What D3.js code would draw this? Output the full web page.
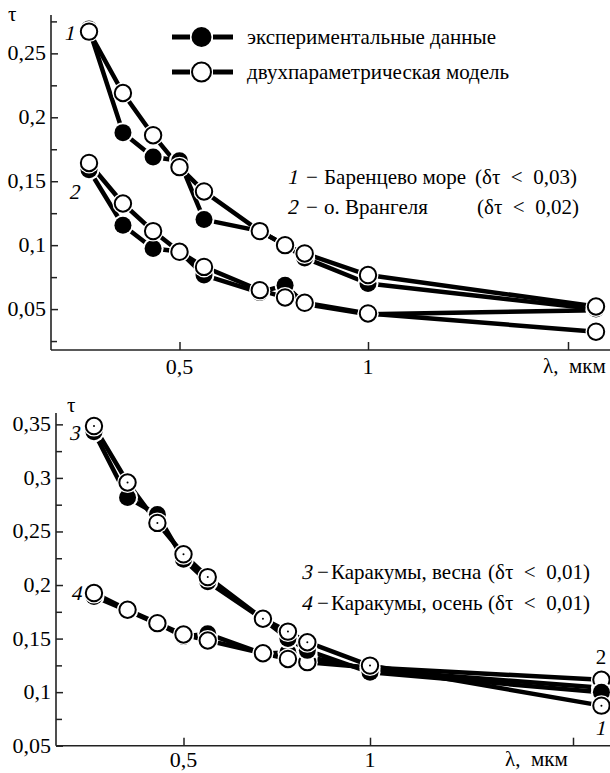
<!DOCTYPE html>
<html>
<head>
<meta charset="utf-8">
<script src="https://cdn.jsdelivr.net/npm/d3@7"></script>
<style>
  svg text { font-family: "Liberation Serif" !important; }
</style>
</head>
<body style="margin:0">
<script>
// wavelengths, mkm (same for both panels)
var lambda = [0.26, 0.35, 0.43, 0.5, 0.565, 0.713, 0.78, 0.832, 1.0, 1.57];

// top panel: 1 - Barents sea, 2 - Wrangel island
var barentsData  = [0.269, 0.188, 0.169, 0.166, 0.120, 0.111, 0.100, 0.090, 0.070, 0.050];
var barentsModel = [0.267, 0.219, 0.186, 0.161, 0.142, 0.111, 0.100, 0.0935, 0.0766, 0.052];
var wrangelData  = [0.159, 0.1156, 0.0974, 0.095, 0.0766, 0.063, 0.0687, 0.054, 0.046, 0.049];
var wrangelModel = [0.1643, 0.1326, 0.111, 0.0948, 0.083, 0.0648, 0.0591, 0.0549, 0.0466, 0.0323];

// bottom panel: 3 - Karakum spring, 4 - Karakum autumn
var springData  = [0.343, 0.2817, 0.2658, 0.224, 0.203, 0.168, 0.150, 0.139, 0.1185, 0.100];
var springModel = [0.3484, 0.2957, 0.258, 0.2287, 0.2074, 0.1685, 0.1565, 0.1466, 0.1248, 0.0874];
var autumnData  = [0.1894, 0.176, 0.164, 0.152, 0.1545, 0.136, 0.137, 0.133, 0.121, 0.104];
var autumnModel = [0.1925, 0.1769, 0.1644, 0.1538, 0.1482, 0.1363, 0.131, 0.128, 0.123, 0.1115];

// axis ticks
var xTicks = [0.5, 1, 1.5];
var topYTicks = [0.05, 0.1, 0.15, 0.2, 0.25];
var topYMinor = [0.025, 0.075, 0.125, 0.175, 0.225, 0.275];
var botYTicks = [0.05, 0.1, 0.15, 0.2, 0.25, 0.3, 0.35];
var botYMinor = [0.075, 0.125, 0.175, 0.225, 0.275, 0.325];

var width = 610, height = 773;

var svg = d3.select("body").append("svg")
  .attr("width", width)
  .attr("height", height);

function comma(d) { return String(+d.toFixed(3)).replace(".", ","); }

// plain serif text straight on the svg
function label(x, y, size, s, slant, anchor) {
  return svg.append("text")
    .attr("font-family", "Liberation Serif")
    .attr("font-size", size)
    .attr("text-anchor", anchor || "start")
    .attr("transform", "translate(" + x + "," + y + ")" + (slant ? " skewX(-13)" : ""))
    .text(s);
}

function drawPanel(p) {
  var x = d3.scaleLinear().domain([0.5, 1, 1.5]).range(p.xRange);
  var y = d3.scaleLinear().domain(p.yDomain).range([p.bottom, p.top]);
  var g = svg.append("g");

  // axis lines
  g.append("line").attr("x1", p.left).attr("x2", p.left).attr("y1", p.top).attr("y2", p.bottom)
    .attr("stroke", "#222").attr("stroke-width", 1.6);
  g.append("line").attr("x1", p.left).attr("x2", 610).attr("y1", p.bottom).attr("y2", p.bottom)
    .attr("stroke", "#222").attr("stroke-width", 1.6);

  var yAxis = g.append("g").attr("transform", "translate(" + p.left + ",0)")
    .call(d3.axisLeft(y).tickValues(p.yTicks).tickSize(-7).tickSizeOuter(0).tickFormat(""));
  var yMinor = g.append("g").attr("transform", "translate(" + p.left + ",0)")
    .call(d3.axisLeft(y).tickValues(p.yMinor).tickSize(-6).tickSizeOuter(0).tickFormat(""));
  var xAxis = g.append("g").attr("transform", "translate(0," + p.bottom + ")")
    .call(d3.axisBottom(x).tickValues(xTicks).tickSize(-8).tickSizeOuter(0).tickFormat(""));
  [yAxis, yMinor, xAxis].forEach(function(a) {
    a.select(".domain").remove();
    a.selectAll("text").remove();
    a.selectAll(".tick line").attr("stroke", "#222").attr("stroke-width", 1.5);
  });

  // tick labels
  p.yTicks.forEach(function(t) { label(p.left - 5, y(t) + 7, 22, comma(t), false, "end"); });
  xTicks.forEach(function(t) { if (t != 1.5) label(x(t), p.bottom + p.xLabDy, 22, comma(t), false, "middle"); });

  var line = d3.line().x(function(d, i) { return x(lambda[i]); }).y(function(d) { return y(d); });

  // lines first, markers (with white halo) on top
  p.series.forEach(function(s) {
    g.append("path").datum(s.values)
      .attr("d", line)
      .attr("fill", "none")
      .attr("stroke", "#000")
      .attr("stroke-width", 4.5)
      .attr("stroke-linejoin", "round");
  });
  p.series.forEach(function(s) {
    var m = g.append("g").selectAll("g").data(s.values).enter().append("g")
      .attr("transform", function(d, i) { return "translate(" + x(lambda[i]) + "," + y(d) + ")"; });
    m.append("circle").attr("r", 10.5).attr("fill", "#fff");
    m.append("circle")
      .attr("r", s.filled ? 8.5 : 8.2)
      .attr("fill", s.filled ? "#000" : "#fff")
      .attr("stroke", "#000")
      .attr("stroke-width", s.filled ? 0 : 2);
    if (s.dot) m.append("circle").attr("r", 1).attr("fill", "#000");
  });

  label(p.tauX, p.tauY, 21, "τ");
  label(p.lamX, p.bottom + p.xLabDy - 1, 21, "λ,\u00a0\u00a0мкм");

  // curve numbers
  p.marks.forEach(function(m) { label(m[0], m[1], 21, m[2], m[3], "middle"); });

  // captions
  p.notes.forEach(function(n) {
    label(n.x, n.y, 21, n.num, true);
    label(n.x + n.dm, n.y, 21, "\u2212");
    label(n.x + n.dn, n.y, 21, n.name);
    label(n.px, n.y, 21, "(δτ\u00a0\u00a0<\u00a0\u00a0" + n.err + ")");
  });
}

drawPanel({
  left: 51, top: 15, bottom: 350, xLabDy: 24,
  xRange: [179.5, 368, 568],
  yDomain: [0.018, 0.28],
  yTicks: topYTicks, yMinor: topYMinor,
  tauX: 8, tauY: 21, lamX: 543,
  series: [
    {values: wrangelData, filled: true},
    {values: wrangelModel, filled: false},
    {values: barentsData, filled: true},
    {values: barentsModel, filled: false}
  ],
  marks: [[69, 40, "1", true], [74, 199, "2", true]],
  notes: [
    {x: 287, y: 184, dm: 19, dn: 37, num: "1", name: "Баренцево море", px: 475, err: "0,03"},
    {x: 287, y: 214, dm: 19, dn: 37, num: "2", name: "о. Врангеля", px: 477, err: "0,02"}
  ]
});

drawPanel({
  left: 56, top: 413, bottom: 745.7, xLabDy: 21,
  xRange: [183.5, 370, 573],
  yDomain: [0.05, 0.3606],
  yTicks: botYTicks, yMinor: botYMinor,
  tauX: 67, tauY: 412, lamX: 505,
  series: [
    {values: autumnData, filled: true},
    {values: autumnModel, filled: false},
    {values: springData, filled: true},
    {values: springModel, filled: false, dot: true}
  ],
  marks: [[74, 440, "3", true], [76, 600, "4", true], [601, 664, "2", false], [600, 735, "1", true]],
  notes: [
    {x: 301, y: 579, dm: 16, dn: 30, num: "3", name: "Каракумы, весна", px: 488, err: "0,01"},
    {x: 301, y: 610, dm: 16, dn: 30, num: "4", name: "Каракумы, осень", px: 488, err: "0,01"}
  ]
});

// legend
var legendRows = [37, 72];
var legendFilled = [true, false];
var legendLabels = ["экспериментальные данные", "двухпараметрическая модель"];
legendRows.forEach(function(ly, i) {
  var lg = svg.append("g").attr("transform", "translate(0," + ly + ")");
  lg.append("line").attr("x1", 172).attr("x2", 190).attr("stroke", "#000").attr("stroke-width", 5);
  lg.append("line").attr("x1", 213).attr("x2", 233).attr("stroke", "#000").attr("stroke-width", 5);
  lg.append("circle").attr("cx", 201.5).attr("r", legendFilled[i] ? 10 : 9.5)
    .attr("fill", legendFilled[i] ? "#000" : "#fff")
    .attr("stroke", "#000").attr("stroke-width", legendFilled[i] ? 0 : 2);
  label(247, ly + 7, 21, legendLabels[i]);
});
</script>
</body>
</html>
